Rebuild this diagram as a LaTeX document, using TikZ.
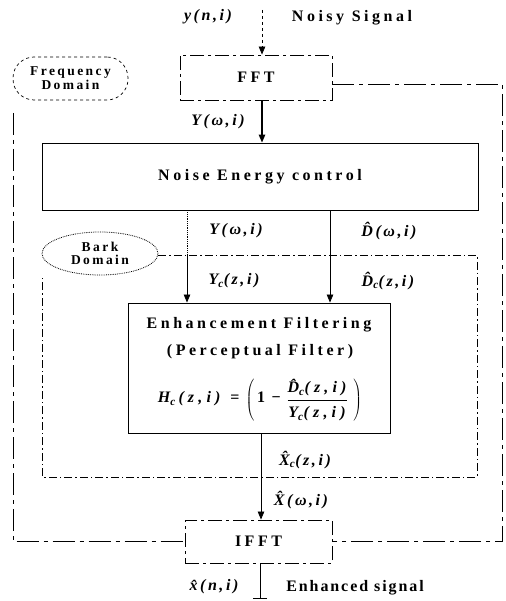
\documentclass[tikz,border=0pt]{standalone}
\usepackage{amsmath}
\usepackage{fontspec}
\setmainfont{Liberation Serif}
\usetikzlibrary{arrows.meta,shapes.geometric}
\newcommand{\lab}[1]{{\fontsize{16}{18}\selectfont\bfseries\itshape\addfontfeatures{LetterSpace=16}#1}}
\newcommand{\flab}[1]{{\fontsize{16}{18}\selectfont\bfseries\itshape\addfontfeatures{LetterSpace=26}#1}}
\newcommand{\up}[1]{{\fontsize{16}{18}\selectfont\bfseries\addfontfeatures{LetterSpace=16}#1}}
\newcommand{\ttl}[1]{{\fontsize{16}{18}\selectfont\bfseries\addfontfeatures{LetterSpace=22}#1}}
\newcommand{\dom}[1]{{\fontsize{13.5}{15}\selectfont\bfseries\addfontfeatures{LetterSpace=18}#1}}
\begin{document}
\begin{tikzpicture}[x=1pt,y=-1pt,
  line width=0.8pt,
  blk/.style={draw, line width=0.9pt, minimum width=#1, inner sep=0pt},
  fftline/.style={dash pattern=on 14pt off 4pt on 3pt off 4pt},
  outer/.style={line width=0.8pt, dash pattern=on 22pt off 5pt on 4pt off 5pt},
  barkline/.style={line width=0.7pt, dash pattern=on 8pt off 3pt on 1.5pt off 3pt},
  arr/.style={-{Triangle[length=8pt,width=6.5pt]}},
  lbl/.style={inner sep=1pt},
]
\useasboundingbox (0,0) rectangle (505,601);

% blocks
\node[blk=152pt, minimum height=45pt, fftline] (fft) at (256,77.5) {\ttl{FFT}};
\node[blk=436pt, minimum height=67pt] (nec) at (260,176.5) {\ttl{Noise Energy control}};
\node[blk=262pt, minimum height=130pt] (ef) at (259,368) {};
\node[blk=147pt, minimum height=43pt, fftline] (ifft) at (258.5,541.5) {\ttl{IFFT}};

% domain labels
\node[draw, dashed, line width=0.7pt, rounded corners=21pt, minimum width=115pt, minimum height=43pt, align=center, inner sep=0pt] (freq) at (70.5,78.5) {\dom{Frequency}\\[1pt]\dom{Domain}};
\node[draw, densely dotted, line width=0.8pt, ellipse, minimum width=116pt, minimum height=43pt, align=center, inner sep=0pt] (bark) at (100,253.5) {\dom{Bark}\\[1pt]\dom{Domain}};

% coordinates
\coordinate (in) at (262,10);
\coordinate (out) at (260,599);
\coordinate (lx) at (187,255);
\coordinate (rx) at (330,255);
\coordinate (cx) at (261,477);
\coordinate (frR) at (502,84);
\coordinate (frL) at (13,113);
\coordinate (bkTR) at (477,255);
\coordinate (bkBR) at (477,477);
\coordinate (bkBL) at (42,477);
\coordinate (bkL) at (42,276);

% frequency domain frame
\draw[outer] (fft.east |- frR) -- (frR) -- (frR |- ifft.east) -- (ifft.east);
\draw[outer] (frL) -- (frL |- ifft.west) -- (ifft.west);

% bark domain frame
\draw[barkline] (bark.east |- bkTR) -- (bkTR) -- (bkBR) -- (bkBL) -- (bkL);

% connectors
\draw[arr, dashed] (in) -- (in |- fft.north);
\draw[arr, line width=1.3pt] (in |- fft.south) -- (in |- nec.north);
\draw[densely dotted] (lx |- nec.south) -- (lx);
\draw[arr] (lx) -- (lx |- ef.north);
\draw[arr] (rx |- nec.south) -- (rx |- ef.north);
\draw (cx |- ef.south) -- (cx);
\draw[arr] (cx) -- (cx |- ifft.north);
\draw[-{Bar[width=14pt]}] (out |- ifft.south) -- (out);

% texts
\node[lbl] (t1) at (208,17) {\lab{y(n,i)}};
\node[lbl] (t2) at (352,18) {\ttl{Noisy Signal}};
\node[lbl] (t3) at (218,122) {\lab{Y(ω,i)}};
\node[lbl] (t4) at (236,231) {\lab{Y(ω,i)}};
\node[lbl] (t5) at (389,231) {\lab{\^{D}(ω,i)}};
\node[lbl] (t6) at (234,281) {\lab{Y\textsubscript{c}(z,i)}};
\node[lbl] (t7) at (388,281) {\lab{\^{D}\textsubscript{c}(z,i)}};
\node[lbl] (t8) at (259,325) {\ttl{Enhancement Filtering}};
\node[lbl] (t9) at (260,352) {\ttl{(Perceptual Filter)}};
\node[lbl] (t10) at (260,400) {\flab{H\textsubscript{c}\,(z,i)}\hspace{10pt}\up{=}\hspace{6pt}$\left(\;\text{\up{1 −}}\;\;\dfrac{\rule[-6pt]{0pt}{12pt}\text{\flab{\^{D}\textsubscript{c}(z,i)}}}{\rule{0pt}{16pt}\text{\flab{Y\textsubscript{c}(z,i)}}}\;\;\right)$};
\node[lbl] (t11) at (305,460) {\lab{\^{X}\textsubscript{c}(z,i)}};
\node[lbl] (t12) at (301,500) {\lab{\^{X}(ω,i)}};
\node[lbl] (t13) at (214,587) {\lab{\^{x}(n,i)}};
\node[lbl] (t14) at (355,588) {{\fontsize{16}{18}\selectfont\bfseries\addfontfeatures{LetterSpace=12}Enhanced signal}};
\end{tikzpicture}
\end{document}
